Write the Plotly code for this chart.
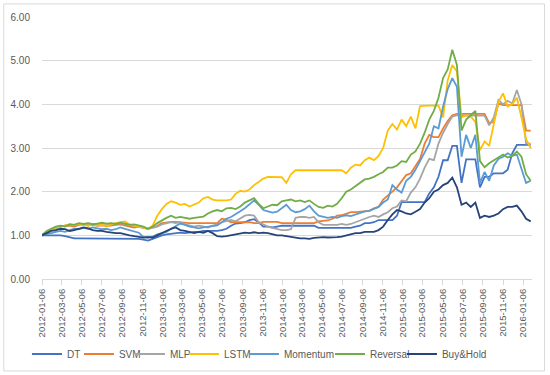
import pandas as pd
import plotly.graph_objects as go

dates = pd.date_range("2012-01-06", periods=107, freq="14D")

DT = [1.00,1.00,1.00,1.00,1.00,0.98,0.95,0.93,0.93,0.93,
      0.92,0.92,0.92,0.92,0.92,0.93,0.93,0.93,0.93,0.93,
      0.92,0.92,0.90,0.88,0.92,0.96,1.00,1.02,1.03,1.05,
      1.06,1.05,1.07,1.08,1.08,1.10,1.10,1.10,1.10,1.12,
      1.15,1.22,1.27,1.28,1.30,1.35,1.37,1.30,1.20,1.20,
      1.18,1.20,1.22,1.22,1.22,1.22,1.22,1.22,1.22,1.22,
      1.17,1.17,1.17,1.17,1.17,1.17,1.17,1.17,1.20,1.22,
      1.28,1.28,1.30,1.35,1.35,1.35,1.35,1.45,1.76,1.76,
      1.76,1.76,1.76,1.76,1.96,2.10,2.34,2.72,2.72,3.05,
      3.05,2.20,2.74,2.74,2.74,2.10,2.34,2.34,2.42,2.42,
      2.42,2.50,2.88,3.07,3.07,3.07,3.07]

SVM = [1.00,1.08,1.14,1.18,1.20,1.22,1.22,1.20,1.24,1.25,
       1.23,1.24,1.22,1.23,1.21,1.23,1.24,1.25,1.22,1.20,
       1.18,1.20,1.17,1.15,1.18,1.22,1.28,1.30,1.31,1.31,
       1.30,1.28,1.28,1.28,1.28,1.28,1.28,1.28,1.28,1.38,
       1.36,1.30,1.30,1.30,1.30,1.30,1.28,1.28,1.31,1.31,
       1.31,1.31,1.28,1.28,1.28,1.28,1.28,1.28,1.28,1.28,
       1.32,1.33,1.34,1.38,1.45,1.46,1.50,1.53,1.53,1.54,
       1.54,1.56,1.62,1.65,1.82,1.90,2.00,2.10,2.25,2.38,
       2.42,2.60,2.75,3.10,3.30,3.25,3.25,3.45,3.62,3.75,
       3.78,3.78,3.78,3.78,3.78,3.78,3.78,3.57,3.60,4.02,
       3.98,3.98,3.98,3.98,3.98,3.40,3.40]

MLP = [1.00,1.06,1.12,1.16,1.20,1.22,1.25,1.24,1.26,1.25,
       1.27,1.26,1.25,1.27,1.26,1.25,1.27,1.28,1.26,1.24,
       1.22,1.20,1.18,1.15,1.17,1.20,1.25,1.28,1.30,1.28,
       1.30,1.25,1.22,1.20,1.22,1.20,1.18,1.22,1.25,1.30,
       1.32,1.35,1.32,1.38,1.45,1.47,1.45,1.30,1.25,1.20,
       1.17,1.15,1.12,1.12,1.14,1.40,1.42,1.42,1.40,1.42,
       1.30,1.24,1.24,1.25,1.24,1.26,1.24,1.26,1.30,1.35,
       1.38,1.42,1.45,1.42,1.48,1.53,1.62,1.66,1.80,1.78,
       1.98,2.10,2.30,2.55,2.75,2.72,3.10,3.35,3.55,3.72,
       3.75,3.74,3.74,3.74,3.74,3.74,3.74,3.52,3.70,4.10,
       4.00,4.08,4.02,4.33,4.00,3.10,3.10]

LSTM = [1.00,1.08,1.12,1.18,1.20,1.22,1.25,1.23,1.26,1.24,
        1.22,1.25,1.23,1.24,1.22,1.25,1.28,1.30,1.32,1.25,
        1.22,1.20,1.18,1.15,1.22,1.45,1.60,1.72,1.78,1.75,
        1.70,1.72,1.66,1.70,1.75,1.85,1.88,1.82,1.80,1.80,
        1.80,1.82,1.95,2.02,2.00,2.05,2.15,2.22,2.30,2.34,
        2.34,2.34,2.33,2.20,2.40,2.49,2.49,2.49,2.49,2.49,
        2.49,2.49,2.49,2.49,2.49,2.49,2.42,2.55,2.62,2.60,
        2.72,2.78,2.72,2.82,3.00,3.40,3.55,3.42,3.65,3.50,
        3.72,3.45,3.96,3.97,3.97,3.97,3.97,3.70,4.55,4.90,
        4.75,3.70,3.75,3.72,3.60,2.95,3.15,3.05,3.55,4.05,
        4.25,3.95,4.00,4.15,3.70,3.20,3.00]

Momentum = [1.00,1.02,1.05,1.08,1.10,1.08,1.12,1.15,1.14,1.17,
            1.15,1.18,1.16,1.14,1.15,1.12,1.14,1.18,1.15,1.12,
            1.10,1.06,0.96,0.95,0.97,1.02,1.05,1.08,1.15,1.22,
            1.27,1.24,1.20,1.18,1.16,1.18,1.20,1.22,1.23,1.30,
            1.38,1.42,1.48,1.55,1.62,1.72,1.80,1.70,1.58,1.55,
            1.52,1.54,1.62,1.70,1.58,1.53,1.55,1.60,1.68,1.55,
            1.45,1.42,1.40,1.42,1.40,1.44,1.46,1.44,1.48,1.52,
            1.55,1.56,1.60,1.65,1.75,1.82,2.15,2.05,1.98,2.25,
            2.34,2.50,2.70,2.90,3.10,3.50,3.45,3.95,4.35,4.60,
            4.40,2.80,3.30,3.00,3.30,2.20,2.45,2.25,2.60,2.75,
            2.80,2.88,2.82,2.85,2.55,2.20,2.25]

Reversal = [1.00,1.10,1.15,1.20,1.22,1.20,1.25,1.24,1.28,1.26,
            1.28,1.25,1.27,1.29,1.27,1.28,1.26,1.29,1.27,1.24,
            1.25,1.22,1.20,1.15,1.20,1.28,1.35,1.40,1.45,1.40,
            1.42,1.40,1.38,1.40,1.41,1.43,1.50,1.55,1.58,1.55,
            1.62,1.63,1.60,1.66,1.75,1.80,1.85,1.72,1.62,1.66,
            1.70,1.69,1.78,1.80,1.82,1.78,1.80,1.76,1.80,1.72,
            1.65,1.63,1.68,1.66,1.72,1.85,2.00,2.05,2.12,2.20,
            2.28,2.30,2.34,2.40,2.45,2.55,2.55,2.60,2.70,2.68,
            2.85,2.92,3.10,3.35,3.65,3.85,4.15,4.60,4.80,5.25,
            4.90,3.40,3.65,3.75,3.85,2.70,2.56,2.65,2.72,2.80,
            2.85,2.78,2.82,2.92,2.80,2.40,2.25]

BuyHold = [1.00,1.05,1.10,1.12,1.15,1.14,1.10,1.12,1.15,1.18,
           1.16,1.12,1.10,1.10,1.08,1.06,1.05,1.05,1.02,1.00,
           0.98,0.97,0.95,0.96,0.95,1.00,1.05,1.10,1.15,1.18,
           1.12,1.10,1.08,1.05,1.08,1.06,1.10,1.05,0.98,0.97,
           0.98,1.00,1.03,1.05,1.06,1.05,1.07,1.05,1.06,1.05,
           1.03,1.00,1.00,0.98,0.97,0.95,0.93,0.93,0.92,0.94,
           0.95,0.96,0.95,0.95,0.96,0.97,1.00,1.03,1.05,1.05,
           1.08,1.08,1.08,1.12,1.20,1.35,1.48,1.58,1.55,1.50,
           1.48,1.54,1.60,1.75,1.85,2.00,2.05,2.15,2.20,2.32,
           2.10,1.70,1.75,1.65,1.75,1.40,1.45,1.42,1.45,1.50,
           1.60,1.65,1.65,1.68,1.55,1.38,1.32]

names = ["DT", "SVM", "MLP", "LSTM", "Momentum", "Reversal", "Buy&Hold"]
series = [DT, SVM, MLP, LSTM, Momentum, Reversal, BuyHold]
colors = ["#4472C4", "#ED7D31", "#A5A5A5", "#FFC000", "#5B9BD5", "#70AD47", "#264478"]
legend_widths = [7, 6, 9, 15, 41, 27, 48]

fig = go.Figure()
for n, s, c, lw in zip(names, series, colors, legend_widths):
    fig.add_trace(go.Scatter(x=dates, y=s, mode="lines", name=n,
                             legendwidth=lw,
                             line=dict(color=c, width=1.8)))

fig.update_layout(
    width=550, height=375,
    margin=dict(l=42, r=18, t=17, b=96, autoexpand=False),
    paper_bgcolor="white", plot_bgcolor="white",
    font=dict(family="Liberation Sans", size=10, color="#595959"),
    showlegend=True,
    legend=dict(orientation="h", xref="container", yref="container",
                x=0.049, y=0.056, xanchor="left", yanchor="middle",
                font=dict(size=10, color="#595959"),
                itemwidth=30, tracegroupgap=0, bgcolor="rgba(0,0,0,0)"),
    xaxis=dict(type="date", range=["2012-01-06", "2016-02-02"],
               tick0="2012-01-06", dtick="M2", tickformat="%Y-%m-%d",
               tickangle=-90, ticks="outside", ticklen=5, tickcolor="#D9D9D9",
               showgrid=False, showline=True, linecolor="#D9D9D9", linewidth=1,
               tickfont=dict(size=9.5, color="#595959")),
    yaxis=dict(range=[0, 6], dtick=1, tickformat=".2f",
               showgrid=True, gridcolor="#D9D9D9", gridwidth=1,
               zeroline=False, showline=False,
               ticks="outside", ticklen=9, tickcolor="rgba(0,0,0,0)",
               tickfont=dict(size=10, color="#595959")),
)

fig.add_shape(type="rect", xref="paper", yref="paper",
              x0=-0.078, x1=1.0255, y0=-0.351, y1=1.05,
              line=dict(color="#D9D9D9", width=1), fillcolor="rgba(0,0,0,0)",
              layer="below")

fig.write_html("out.html",
               config={"displayModeBar": False},
               post_script="document.body.style.margin='0';document.body.style.padding='0';")
